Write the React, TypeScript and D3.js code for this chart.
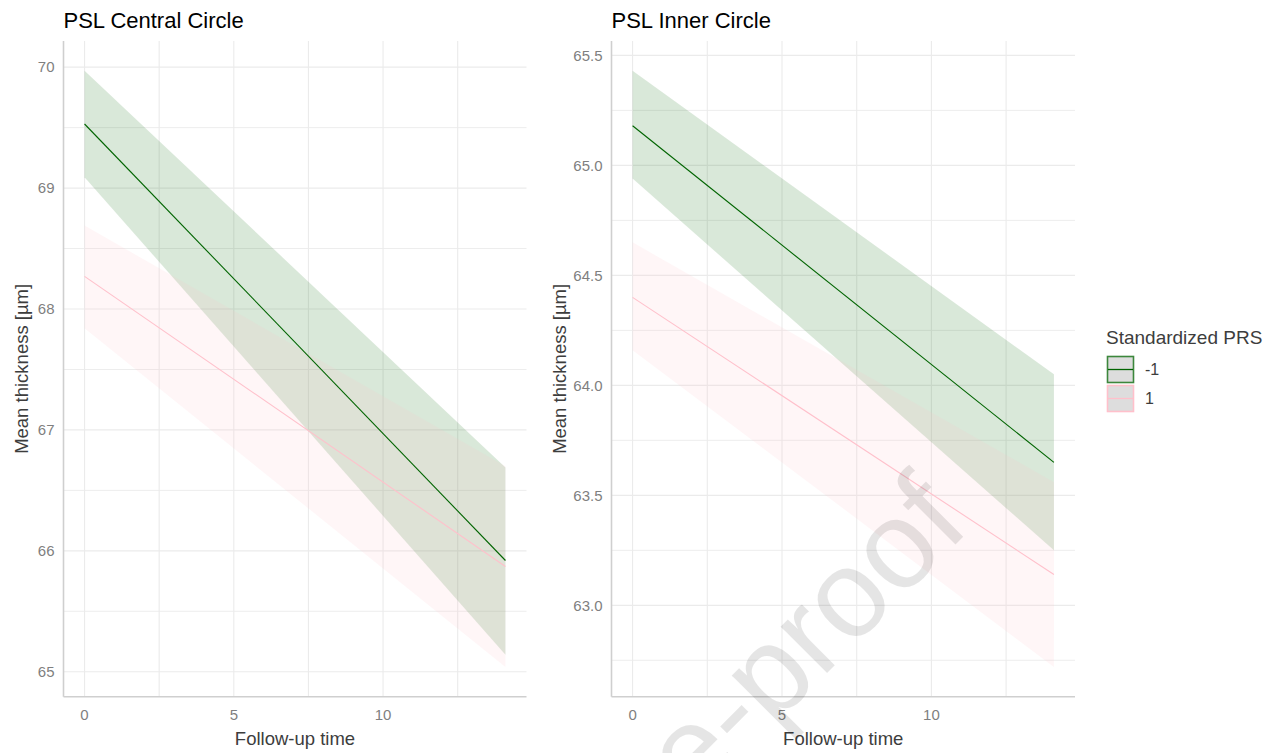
import React, { useRef, useEffect } from "react";
import * as d3 from "d3";

// follow-up time span of the model predictions
const followUp = [0, 14.1];

// PSL Central Circle
const centralLowFit = [69.53, 65.92];
const centralLowLower = [69.09, 65.14];
const centralLowUpper = [69.97, 66.69];
const centralHighFit = [68.27, 65.87];
const centralHighLower = [67.84, 65.04];
const centralHighUpper = [68.69, 66.7];

// PSL Inner Circle
const innerLowFit = [65.18, 63.65];
const innerLowLower = [64.94, 63.25];
const innerLowUpper = [65.43, 64.05];
const innerHighFit = [64.4, 63.14];
const innerHighLower = [64.16, 62.72];
const innerHighUpper = [64.65, 63.56];

const xTicks = [0, 5, 10];
const xMinor = [2.5, 7.5, 12.5];
const centralTicks = [65, 66, 67, 68, 69, 70];
const centralMinor = [65.5, 66.5, 67.5, 68.5, 69.5];
const innerTicks = [63.0, 63.5, 64.0, 64.5, 65.0, 65.5];
const innerMinor = [62.75, 63.25, 63.75, 64.25, 64.75, 65.25];

const groups = ["-1", "1"];
const lineColors = ["#006400", "#ffc0cb"];

const FONT = "Arial, 'Liberation Sans', Helvetica, sans-serif";

const App = () => {
  const svgRef = useRef<SVGSVGElement>(null);

  useEffect(() => {
    const svg = d3.select(svgRef.current);
    const width = 1275;
    const height = 753;
    svg.attr("width", width).attr("height", height);
    svg.selectAll("*").remove();

    svg.append("rect").attr("width", width).attr("height", height).attr("fill", "#fff");

    const top = 41;
    const bottom = 696.7;

    const panels = [
      {
        title: "PSL Central Circle",
        left: 63.5,
        right: 526.5,
        fit: [centralLowFit, centralHighFit],
        lower: [centralLowLower, centralHighLower],
        upper: [centralLowUpper, centralHighUpper],
        ticks: centralTicks,
        minor: centralMinor,
        fmt: d3.format("d"),
        yTitleX: 22,
      },
      {
        title: "PSL Inner Circle",
        left: 611.5,
        right: 1075,
        fit: [innerLowFit, innerHighFit],
        lower: [innerLowLower, innerHighLower],
        upper: [innerLowUpper, innerHighUpper],
        ticks: innerTicks,
        minor: innerMinor,
        fmt: d3.format(".1f"),
        yTitleX: 560,
      },
    ];

    const expand = (lo: number, hi: number) => {
      const pad = (hi - lo) * 0.05;
      return [lo - pad, hi + pad];
    };

    panels.forEach((p) => {
      const x = d3
        .scaleLinear()
        .domain(expand(followUp[0], followUp[followUp.length - 1]))
        .range([p.left, p.right]);
      const allY = [...p.lower.flat(), ...p.upper.flat()];
      const y = d3
        .scaleLinear()
        .domain(expand(d3.min(allY)!, d3.max(allY)!))
        .range([bottom, top]);

      const g = svg.append("g");

      // grid
      g.selectAll(".ymin")
        .data(p.minor)
        .enter()
        .append("line")
        .attr("x1", p.left)
        .attr("x2", p.right)
        .attr("y1", (d) => y(d))
        .attr("y2", (d) => y(d))
        .attr("stroke", "#ededed")
        .attr("stroke-width", 1);
      g.selectAll(".ymaj")
        .data(p.ticks)
        .enter()
        .append("line")
        .attr("x1", p.left)
        .attr("x2", p.right)
        .attr("y1", (d) => y(d))
        .attr("y2", (d) => y(d))
        .attr("stroke", "#ebebeb")
        .attr("stroke-width", 1.2);
      g.selectAll(".xgrid")
        .data([...xMinor, ...xTicks])
        .enter()
        .append("line")
        .attr("x1", (d) => x(d))
        .attr("x2", (d) => x(d))
        .attr("y1", top)
        .attr("y2", bottom)
        .attr("stroke", "#ebebeb")
        .attr("stroke-width", 1.1);

      // ribbons, then lines
      const area = d3.area<number>().x((d) => x(d));

      groups.forEach((grp, gi) => {
        const lo = p.lower[gi];
        const hi = p.upper[gi];
        area.y0((d, i) => y(lo[i])).y1((d, i) => y(hi[i]));
        g.append("path")
          .attr("d", area(followUp))
          .attr("fill", lineColors[gi])
          .attr("fill-opacity", 0.15);
      });

      groups.forEach((grp, gi) => {
        const vals = p.fit[gi];
        const line = d3
          .line<number>()
          .x((d) => x(d))
          .y((d, i) => y(vals[i]));
        g.append("path")
          .attr("d", line(followUp))
          .attr("fill", "none")
          .attr("stroke", lineColors[gi])
          .attr("stroke-width", 1.1);
      });

      // axis lines
      g.append("line")
        .attr("x1", p.left)
        .attr("x2", p.left)
        .attr("y1", top)
        .attr("y2", bottom)
        .attr("stroke", "#cfcfcf")
        .attr("stroke-width", 1.6);
      g.append("line")
        .attr("x1", p.left)
        .attr("x2", p.right)
        .attr("y1", bottom)
        .attr("y2", bottom)
        .attr("stroke", "#cfcfcf")
        .attr("stroke-width", 1.6);

      // tick labels
      g.selectAll(".ylab")
        .data(p.ticks)
        .enter()
        .append("text")
        .attr("x", p.left - 9)
        .attr("y", (d) => y(d))
        .attr("dy", "0.35em")
        .attr("text-anchor", "end")
        .attr("font-family", FONT)
        .attr("font-size", 15)
        .attr("fill", "#7f7f7f")
        .text((d) => p.fmt(d));
      g.selectAll(".xlab")
        .data(xTicks)
        .enter()
        .append("text")
        .attr("x", (d) => x(d))
        .attr("y", 719.5)
        .attr("text-anchor", "middle")
        .attr("font-family", FONT)
        .attr("font-size", 15)
        .attr("fill", "#7f7f7f")
        .text((d) => d);

      // axis titles
      g.append("text")
        .attr("x", (p.left + p.right) / 2)
        .attr("y", 745)
        .attr("text-anchor", "middle")
        .attr("font-family", FONT)
        .attr("font-size", 18.5)
        .attr("fill", "#3d3d3d")
        .text("Follow-up time");
      g.append("text")
        .attr("transform", `translate(${p.yTitleX + 6},${(top + bottom) / 2}) rotate(-90)`)
        .attr("text-anchor", "middle")
        .attr("font-family", FONT)
        .attr("font-size", 18.5)
        .attr("fill", "#3d3d3d")
        .text("Mean thickness [µm]");

      // panel title
      g.append("text")
        .attr("x", p.left)
        .attr("y", 28)
        .attr("font-family", FONT)
        .attr("font-size", 22)
        .attr("fill", "#000")
        .text(p.title);
    });

    // legend
    const leg = svg.append("g").attr("transform", "translate(1106,0)");
    leg.append("text")
      .attr("x", 0)
      .attr("y", 343.5)
      .attr("font-family", FONT)
      .attr("font-size", 19)
      .attr("fill", "#3d3d3d")
      .text("Standardized PRS");
    groups.forEach((grp, gi) => {
      const ky = 356.5 + gi * 29;
      leg.append("rect")
        .attr("x", 1.5)
        .attr("y", ky)
        .attr("width", 26)
        .attr("height", 26)
        .attr("fill", "#dddddd")
        .attr("stroke", lineColors[gi])
        .attr("stroke-opacity", gi === 0 ? 0.75 : 1)
        .attr("stroke-width", 1.6);
      leg.append("line")
        .attr("x1", 2)
        .attr("x2", 27)
        .attr("y1", ky + 13)
        .attr("y2", ky + 13)
        .attr("stroke", lineColors[gi])
        .attr("stroke-width", 1.3);
      leg.append("text")
        .attr("x", 39)
        .attr("y", ky + 13)
        .attr("dy", "0.35em")
        .attr("font-family", FONT)
        .attr("font-size", 16)
        .attr("fill", "#3d3d3d")
        .text(grp);
    });

    // watermark of the journal page
    svg.append("text")
      .attr("transform", "translate(972,528) rotate(-45)")
      .attr("text-anchor", "end")
      .attr("font-family", FONT)
      .attr("font-size", 124)
      .attr("fill", "#000")
      .attr("fill-opacity", 0.1)
      .text("Journal Pre-proof");
  }, []);

  return (
    <svg
      ref={svgRef}
      style={{ position: "absolute", left: 0, top: 0, display: "block" }}
    />
  );
};

export default App;
